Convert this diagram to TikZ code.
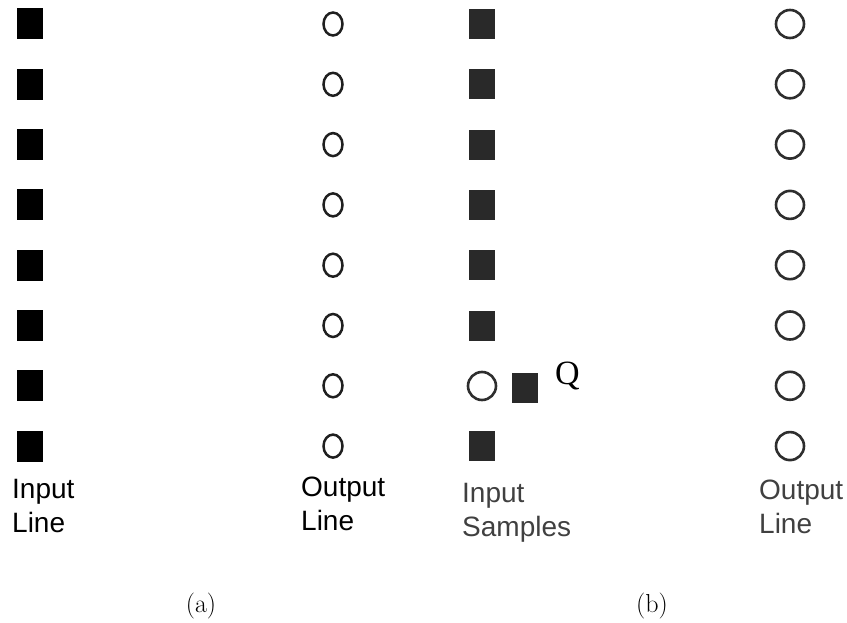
\documentclass[tikz,border=0pt]{standalone}
\usepackage{fontspec}
\usetikzlibrary{shapes.geometric}
\setmainfont{Liberation Sans}
\newfontfamily\qfont{Liberation Serif}
\newfontfamily\lmfont{Latin Modern Roman}
\begin{document}
\begin{tikzpicture}[x=1pt,y=-1pt,
  sqa/.style={rectangle,fill=black,minimum width=26pt,minimum height=31pt,inner sep=0pt},
  sqb/.style={rectangle,fill=black!84,minimum width=26pt,minimum height=30pt,inner sep=0pt},
  cira/.style={ellipse,draw=black!88,line width=2.5pt,minimum width=19pt,minimum height=23pt,inner sep=0pt},
  cirb/.style={circle,draw=black!82,line width=2.6pt,minimum size=28pt,inner sep=0pt},
  lbl/.style={anchor=north west,inner sep=0pt,align=left,font=\fontsize{28}{34}\selectfont},
  captxt/.style={inner sep=0pt,font=\lmfont\fontsize{26}{30}\selectfont}
]
\useasboundingbox (0,0) rectangle (847,623);
\foreach \k in {1,...,8} {
  \pgfmathsetmacro{\yy}{24+60.3*(\k-1)}
  \node[sqa] (a\k) at (30,\yy) {};
  \node[cira] (oa\k) at (333,\yy) {};
  \node[cirb] (ob\k) at (790,\yy) {};
}
\foreach \k in {1,2,3,4,5,6,8} {
  \pgfmathsetmacro{\yy}{24+60.3*(\k-1)}
  \node[sqb] (b\k) at (482,\yy) {};
}
\node[cirb] (c7) at (482,386) {};
\node[sqb] (b7) at (525,388) {};
\node[anchor=base west,inner sep=0pt,font=\qfont\fontsize{34}{38}\selectfont] (q) at (555,384) {Q};
\node[lbl] (l1) at (12,479) {Input\\Line};
\node[lbl] (l2) at (301,477) {Output\\Line};
\node[lbl,text=black!75] (l3) at (462,483) {Input\\Samples};
\node[lbl,text=black!75] (l4) at (759,480) {Output\\Line};
\node[captxt] (ca) at (201,606) {(a)};
\node[captxt] (cb) at (652,606) {(b)};
\end{tikzpicture}
\end{document}
